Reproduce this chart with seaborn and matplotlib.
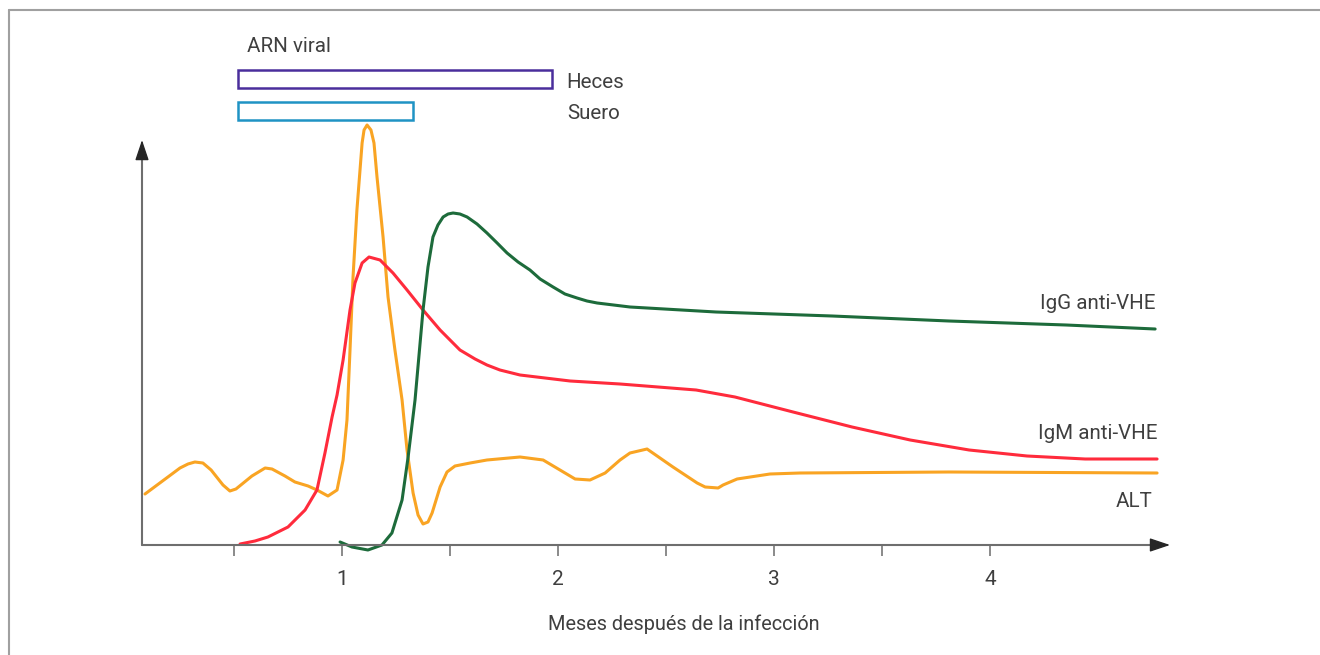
import matplotlib
matplotlib.use("Agg")
import matplotlib.pyplot as plt
from matplotlib.lines import Line2D
import seaborn as sns
import numpy as np

sns.set_theme(style="white")
plt.rcParams['font.family'] = ['Liberation Sans Narrow', 'Roboto', 'DejaVu Sans']

TEXT = '#3f3f3f'

# ---- data (months after infection, relative level) ----
alt_x = [0.088, 0.194, 0.250, 0.287, 0.319, 0.356, 0.394, 0.449, 0.481, 0.509,
         0.583, 0.644, 0.676, 0.736, 0.782, 0.843, 0.884, 0.935, 0.977, 1.005,
         1.023, 1.037, 1.051, 1.069, 1.093, 1.102, 1.116, 1.134, 1.148, 1.162,
         1.190, 1.213, 1.245, 1.278, 1.301, 1.329, 1.352, 1.375, 1.398, 1.417,
         1.454, 1.486, 1.523, 1.593, 1.671, 1.824, 1.931, 2.009, 2.079, 2.148,
         2.218, 2.287, 2.333, 2.412, 2.472, 2.532, 2.644, 2.681, 2.741, 2.764,
         2.829, 2.981, 3.120, 3.810, 4.773]
alt_y = [12.75, 17.0, 19.25, 20.25, 20.75, 20.5, 18.75, 15.0, 13.5, 14.0,
         17.25, 19.25, 19.0, 17.25, 15.75, 14.75, 13.75, 12.25, 13.75, 21.25,
         31.25, 48.75, 67.0, 83.75, 100.5, 103.75, 105.0, 103.75, 100.5, 92.0,
         77.0, 62.0, 48.75, 36.25, 23.75, 13.0, 7.5, 5.25, 5.75, 8.0,
         14.5, 18.25, 19.75, 20.5, 21.25, 22.0, 21.25, 18.75, 16.5, 16.25,
         18.0, 21.25, 23.0, 24.0, 21.75, 19.5, 15.5, 14.5, 14.25, 15.0,
         16.5, 17.75, 18.0, 18.25, 18.0]

igm_x = [0.528, 0.597, 0.657, 0.750, 0.829, 0.884, 0.921, 0.954, 0.977, 1.005,
         1.037, 1.060, 1.093, 1.125, 1.176, 1.236, 1.301, 1.375, 1.454, 1.546,
         1.616, 1.671, 1.731, 1.824, 1.940, 2.056, 2.287, 2.639, 2.819, 3.088,
         3.361, 3.630, 3.903, 4.171, 4.440, 4.773]
igm_y = [0.25, 1.0, 2.0, 4.5, 8.75, 13.75, 23.0, 32.0, 37.5, 46.25,
         58.75, 65.5, 70.5, 72.0, 71.25, 68.0, 63.75, 58.75, 53.75, 48.75,
         46.5, 45.0, 43.75, 42.5, 41.75, 41.0, 40.25, 38.75, 37.0, 33.25,
         29.5, 26.25, 23.75, 22.25, 21.5, 21.5]

igg_x = [0.991, 1.046, 1.120, 1.185, 1.231, 1.278, 1.306, 1.338, 1.375, 1.398,
         1.421, 1.444, 1.468, 1.491, 1.514, 1.546, 1.579, 1.625, 1.671, 1.718,
         1.764, 1.815, 1.870, 1.917, 1.977, 2.032, 2.088, 2.134, 2.181, 2.333,
         2.731, 3.269, 3.810, 4.352, 4.764]
igg_y = [0.75, -0.5, -1.25, 0.0, 3.0, 11.25, 22.0, 36.25, 58.75, 69.5,
         77.0, 80.0, 82.0, 82.75, 83.0, 82.75, 82.0, 80.25, 78.0, 75.5,
         73.0, 70.75, 68.75, 66.5, 64.5, 62.75, 61.75, 61.0, 60.5, 59.5,
         58.25, 57.25, 56.0, 55.0, 54.0]

# viral RNA detection windows
rna_labels = ['Heces', 'Suero']
rna_start = [0.519, 0.519]
rna_end = [1.972, 1.329]
rna_level = [116.6, 108.4]
rna_colors = ['#4a2e9c', '#1f93c4']

tick_pos = [0.5, 1, 1.5, 2, 2.5, 3, 3.5, 4]
tick_lab = ['', '1', '', '2', '', '3', '', '4']

x_min, x_max, x_arrow = 0.0741, 4.856, 4.833
y_min, y_max, y_arrow = -3.0, 131.25, 101.25

fig = plt.figure(figsize=(13.2, 6.55), dpi=100)
ax = fig.add_axes([142/1320, (655-557)/655, 1033/1320, 537/655])
ax.set_xlim(x_min, x_max)
ax.set_ylim(y_min, y_max)

line_kw = dict(lw=2.2, sort=False, estimator=None)
sns.lineplot(x=alt_x, y=alt_y, ax=ax, color='#f9a423', **line_kw)
sns.lineplot(x=igm_x, y=igm_y, ax=ax, color='#ff2b3c', **line_kw)
sns.lineplot(x=igg_x, y=igg_y, ax=ax, color='#1d6b3b', **line_kw)
for ln in ax.lines:
    ln.set_solid_joinstyle('round')
    ln.set_solid_capstyle('round')

# RNA boxes
ax.barh(rna_level, [e - s for s, e in zip(rna_start, rna_end)], left=rna_start,
        height=4.5, color='white', edgecolor=rna_colors, linewidth=1.8, clip_on=False)

# axes lines with arrows
for sp in ax.spines.values():
    sp.set_visible(False)
ax.spines['bottom'].set_position(('data', 0))
ax.annotate('', xy=(x_arrow - 0.03, 0), xytext=(x_min, 0),
            arrowprops=dict(arrowstyle='-', color='#6e6e6e', lw=1.5, shrinkA=0, shrinkB=0))
ax.annotate('', xy=(x_min, y_arrow - 2), xytext=(x_min, 0),
            arrowprops=dict(arrowstyle='-', color='#6e6e6e', lw=1.5, shrinkA=0, shrinkB=0))
ax.annotate('', xy=(x_arrow, 0), xytext=(x_arrow - 0.05, 0),
            arrowprops=dict(arrowstyle='-|>,head_length=1.25,head_width=0.42', mutation_scale=10,
                            color='#262626', lw=1.0, shrinkA=0, shrinkB=0))
ax.annotate('', xy=(x_min, y_arrow), xytext=(x_min, y_arrow - 3),
            arrowprops=dict(arrowstyle='-|>,head_length=1.25,head_width=0.42', mutation_scale=10,
                            color='#262626', lw=1.0, shrinkA=0, shrinkB=0))

ax.set_xticks(tick_pos)
ax.set_xticklabels(tick_lab)
ax.set_yticks([])
ax.tick_params(axis='x', direction='out', length=8, width=1.2, color='#777777',
               bottom=True, pad=10, labelsize=15, labelcolor=TEXT)
ax.grid(False)

# text labels
fs = 14.8
ax.text(0.560, 123.25, 'ARN viral', fontsize=fs, color=TEXT, ha='left', va='baseline', clip_on=False)
ax.text(2.037, 114.25, rna_labels[0], fontsize=fs, color=TEXT, ha='left', va='baseline', clip_on=False)
ax.text(2.042, 106.5, rna_labels[1], fontsize=fs, color=TEXT, ha='left', va='baseline', clip_on=False)
ax.text(4.764, 59.0, 'IgG anti-VHE', fontsize=fs, color=TEXT, ha='right', va='baseline')
ax.text(4.773, 26.5, 'IgM anti-VHE', fontsize=fs, color=TEXT, ha='right', va='baseline')
ax.text(4.750, 9.5, 'ALT', fontsize=fs, color=TEXT, ha='right', va='baseline')

fig.text(684/1320, 1 - 630/655, 'Meses después de la infección', fontsize=14.3,
         color=TEXT, ha='center', va='baseline')

# partial frame (top and left edges)
fig.add_artist(Line2D([9/1320, 1.0], [1 - 10/655, 1 - 10/655], color='#a0a0a0', lw=1.5,
                      transform=fig.transFigure))
fig.add_artist(Line2D([9/1320, 9/1320], [0.0, 1 - 10/655], color='#a0a0a0', lw=1.5,
                      transform=fig.transFigure))

fig.savefig('out.png', dpi=100)
